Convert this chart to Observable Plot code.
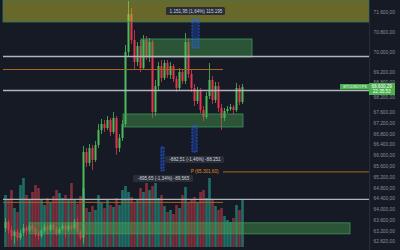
<!DOCTYPE html>
<html><head><meta charset="utf-8">
<script src="https://cdn.jsdelivr.net/npm/d3@7"></script>
<script src="https://cdn.jsdelivr.net/npm/@observablehq/plot@0.6"></script>
<style>
html,body{margin:0;padding:0;background:#161a25;}
#chart{position:relative;width:400px;height:250px;overflow:hidden;background:#161a25;}
#chart svg{position:absolute;left:0;top:0;}
</style></head><body><div id="chart"></div>
<script>
// ---- candle data (BTCUSDT.P) ----
const open = [63308,63530,63234,63012,63160,62938,63123,63308,63197,63382,
63271,63086,63012,63197,63345,63234,63419,63271,63123,63271,
63382,63234,63382,63308,63530,63160,62938,66120,65713,66268,
65824,66379,66934,67156,67008,67304,66860,67378,66268,66638,
67156,70000,71520,70480,69600,70240,69360,70480,69840,70400,
67600,68640,69440,68960,69560,69080,69440,68920,68560,69200,
68840,70400,69120,68560,68040,68440,67680,67415,68240,68880,
68080,68640,67760,67378,67640,67720,67800,67680,68560,68000];
const close = [63530,63234,63012,63160,62938,63123,63308,63197,63382,63271,
63086,63012,63197,63345,63234,63419,63271,63123,63271,63382,
63234,63382,63308,63530,63160,62938,66120,65713,66268,65824,
66379,66934,67156,67008,67304,66860,67378,66268,66638,67156,
70000,71520,70480,69600,70240,69360,70480,69840,70400,67600,
68640,69440,68960,69560,69080,69440,68920,68560,69200,68840,
70400,69120,68560,68040,68440,67680,67415,68240,68880,68080,
68640,67760,67378,67640,67720,67800,67680,68560,68000,68600];
const high = [63678,63604,63382,63234,63271,63234,63456,63382,63530,63493,
63345,63197,63271,63456,63419,63530,63493,63382,63345,63493,
63456,63530,63493,63641,63678,63234,66342,66268,66416,66379,
66527,67156,67341,67304,67452,67378,67600,67452,66786,67304,
70280,72040,71760,70880,70400,70480,70680,70640,70560,70480,
68880,69600,69680,69680,69680,69600,69520,69040,69360,69280,
70760,70560,69280,68720,68600,68560,67840,68400,69560,69040,
68800,68800,67920,67760,67840,67920,67880,68760,68680,68720];
const low = [63160,63086,62864,62716,62827,62864,63012,63049,63123,63160,
62975,62864,62938,63123,63123,63160,63197,63012,63049,63197,
62938,63160,63197,63234,63086,62864,62716,65565,65602,65454,
65750,66268,66786,66860,66934,66712,66786,66009,66120,66527,
67045,69840,70320,69280,69440,69200,69280,69680,69600,67378,
67452,68480,68800,68880,68960,68920,68800,68400,68480,68720,
68720,68960,68400,67840,67920,67563,67267,67341,68120,67920,
67960,67600,66934,67267,67563,67640,67526,67600,67880,67920];
const volume = [520,470,570,390,350,620,690,520,470,550,
620,590,470,420,490,450,510,570,540,490,
520,470,640,470,430,510,590,390,350,410,
370,520,440,390,470,420,400,490,420,570,
610,550,500,440,480,590,550,640,570,610,
640,490,520,410,350,370,330,420,390,520,
600,440,470,500,450,550,570,490,690,470,
410,370,390,310,270,250,290,420,370,470];

// ---- axis ticks ----
const yTicks = [71600,70800,70000,69200,68800,68200,67600,67200,66800,66400,66000,65600,65200,64800,64400,64000,63600,63200,62820];

// ---- drawings (bar index, price) ----
const yellowZone = [{i1:-0.67, i2:121.33, lo:71200, hi:72080}];
const greenZones = [
  {i1:45.33, i2:82.33, lo:69800, hi:70520},
  {i1:39.33, i2:79.33, lo:67045, hi:67526},
  {i1:8, i2:115, lo:63086, hi:63493}
];
const greyLevels = [69840, 68480, 64380];
const orangeLevels = [
  {i1:-0.67, i2:72.67, p:69320},
  {i1:-0.67, i2:72.67, p:64270},
  {i1:72.67, i2:121.33, p:65400}
];
const orangeLabel = [{i:71, p:65400, text:"P (65.301,60)"}];
const measures = [
  {i1:62.33, i2:64.67, lo:70160, hi:71320},
  {i1:62.33, i2:64, lo:66120, hi:67082},
  {i1:52, i2:53, lo:65417, hi:66305}
];
const measureLabels = [
  {i1:53.67, i2:73.33, lo:71480, hi:71800, text:"1.151,95 (1,64%) 115.195"},
  {i1:53.33, i2:73, lo:65713, hi:65972, text:"-882,51 (-1,46%) -88.251"},
  {i1:42.67, i2:62.67, lo:65010, hi:65269, text:"-895,65 (-1,34%) -89.565"}
];
const lastPrice = 68600.29;
const countdown = "22:35:53";
const symbol = "BTCUSDT.PS";

// ---- build ----
const xDom = [-2/3, 364/3];
const candles = open.map((o, i) => ({i, o, c: close[i], h: high[i], l: low[i], v: volume[i]}));
const up = d => d.c >= d.o;
const GREEN = "#4cbb5a", RED = "#e8334d";
const fmt = v => d3.format(",.2f")(v).replace(/,/g, "X").replace(/\./g, ",").replace(/X/g, ".");
const font = "Liberation Sans, Arial, sans-serif";

const vol = Plot.plot({
  width: 400, height: 250, marginLeft: 3, marginRight: 31, marginTop: 0, marginBottom: 3,
  x: {domain: xDom, axis: null},
  y: {domain: [0, 2470], axis: null},
  style: {background: "transparent"},
  marks: [
    Plot.ruleX(candles, {x: "i", y1: 0, y2: "v", stroke: d => up(d) ? "#1f6e68" : "#7f2f3b", strokeWidth: 2.6})
  ]
});

const main = Plot.plot({
  width: 400, height: 250, marginLeft: 3, marginRight: 31, marginTop: 0, marginBottom: 0,
  x: {domain: xDom, axis: null},
  y: {type: "linear", domain: [62487, 67600, 72080], range: [250, 112, 0]},
  style: {background: "transparent", fontFamily: font, fontSize: "5px"},
  marks: [
    Plot.ruleX(candles, {x: "i", y1: "l", y2: "h", stroke: d => up(d) ? GREEN : RED, strokeWidth: 0.8}),
    Plot.ruleX(candles, {x: "i", y1: "o", y2: "c", stroke: d => up(d) ? GREEN : RED, strokeWidth: 2}),
    Plot.rect(yellowZone, {x1: "i1", x2: "i2", y1: "lo", y2: "hi", fill: "rgb(205,200,50)", fillOpacity: 0.45, stroke: "#2e7d6a", strokeWidth: 0.8}),
    Plot.rect(greenZones, {x1: "i1", x2: "i2", y1: "lo", y2: "hi", fill: "rgb(76,175,80)", fillOpacity: 0.4, stroke: "#3c9a5c", strokeWidth: 0.8}),
    Plot.ruleY(greyLevels, {stroke: "#b2b5be", strokeWidth: 1.3}),
    Plot.ruleY(orangeLevels, {y: "p", x1: "i1", x2: "i2", stroke: "#a8661c", strokeWidth: 1}),
    Plot.text(orangeLabel, {x: "i", y: "p", text: "text", textAnchor: "end", fill: "#e08a1e", fontSize: 4.6}),
    Plot.rect(measures, {x1: "i1", x2: "i2", y1: "lo", y2: "hi", fill: "#2962ff", fillOpacity: 0.28, stroke: "#2962ff", strokeWidth: 0.8, strokeDasharray: "2,1.2"}),
    Plot.rect(measureLabels, {x1: "i1", x2: "i2", y1: "lo", y2: "hi", fill: "#2a2e39", rx: 1.5}),
    Plot.text(measureLabels, {x: d => (d.i1 + d.i2) / 2, y: d => (d.lo + d.hi) / 2, text: "text", fill: "#d1d4dc", fontSize: 4.6}),
    Plot.ruleX([121.333], {stroke: "#2a2e39", strokeWidth: 1}),
    Plot.axisY(yTicks, {anchor: "right", tickSize: 0, tickPadding: 4, tickFormat: fmt, fill: "#8b8f9a", fontSize: 4.8, label: null}),
    Plot.rect([lastPrice], {x1: 121.33, x2: 130, y1: 68280, y2: 68760, fill: "#4caf50"}),
    Plot.text([fmt(lastPrice)], {x: 125.4, y: 68640, text: d => d, fill: "#ffffff", fontSize: 4.6}),
    Plot.text([countdown], {x: 125.4, y: 68420, text: d => d, fill: "#ffffff", fontSize: 4.6}),
    Plot.rect([symbol], {x1: 111.67, x2: 121.33, y1: 68500, y2: 68720, fill: "#4caf50"}),
    Plot.text([symbol], {x: 116.5, y: 68610, text: d => d, fill: "#e8ffe8", fontSize: 3.8})
  ]
});

const el = document.getElementById("chart");
el.appendChild(vol);
el.appendChild(main);
</script>
</body></html>
